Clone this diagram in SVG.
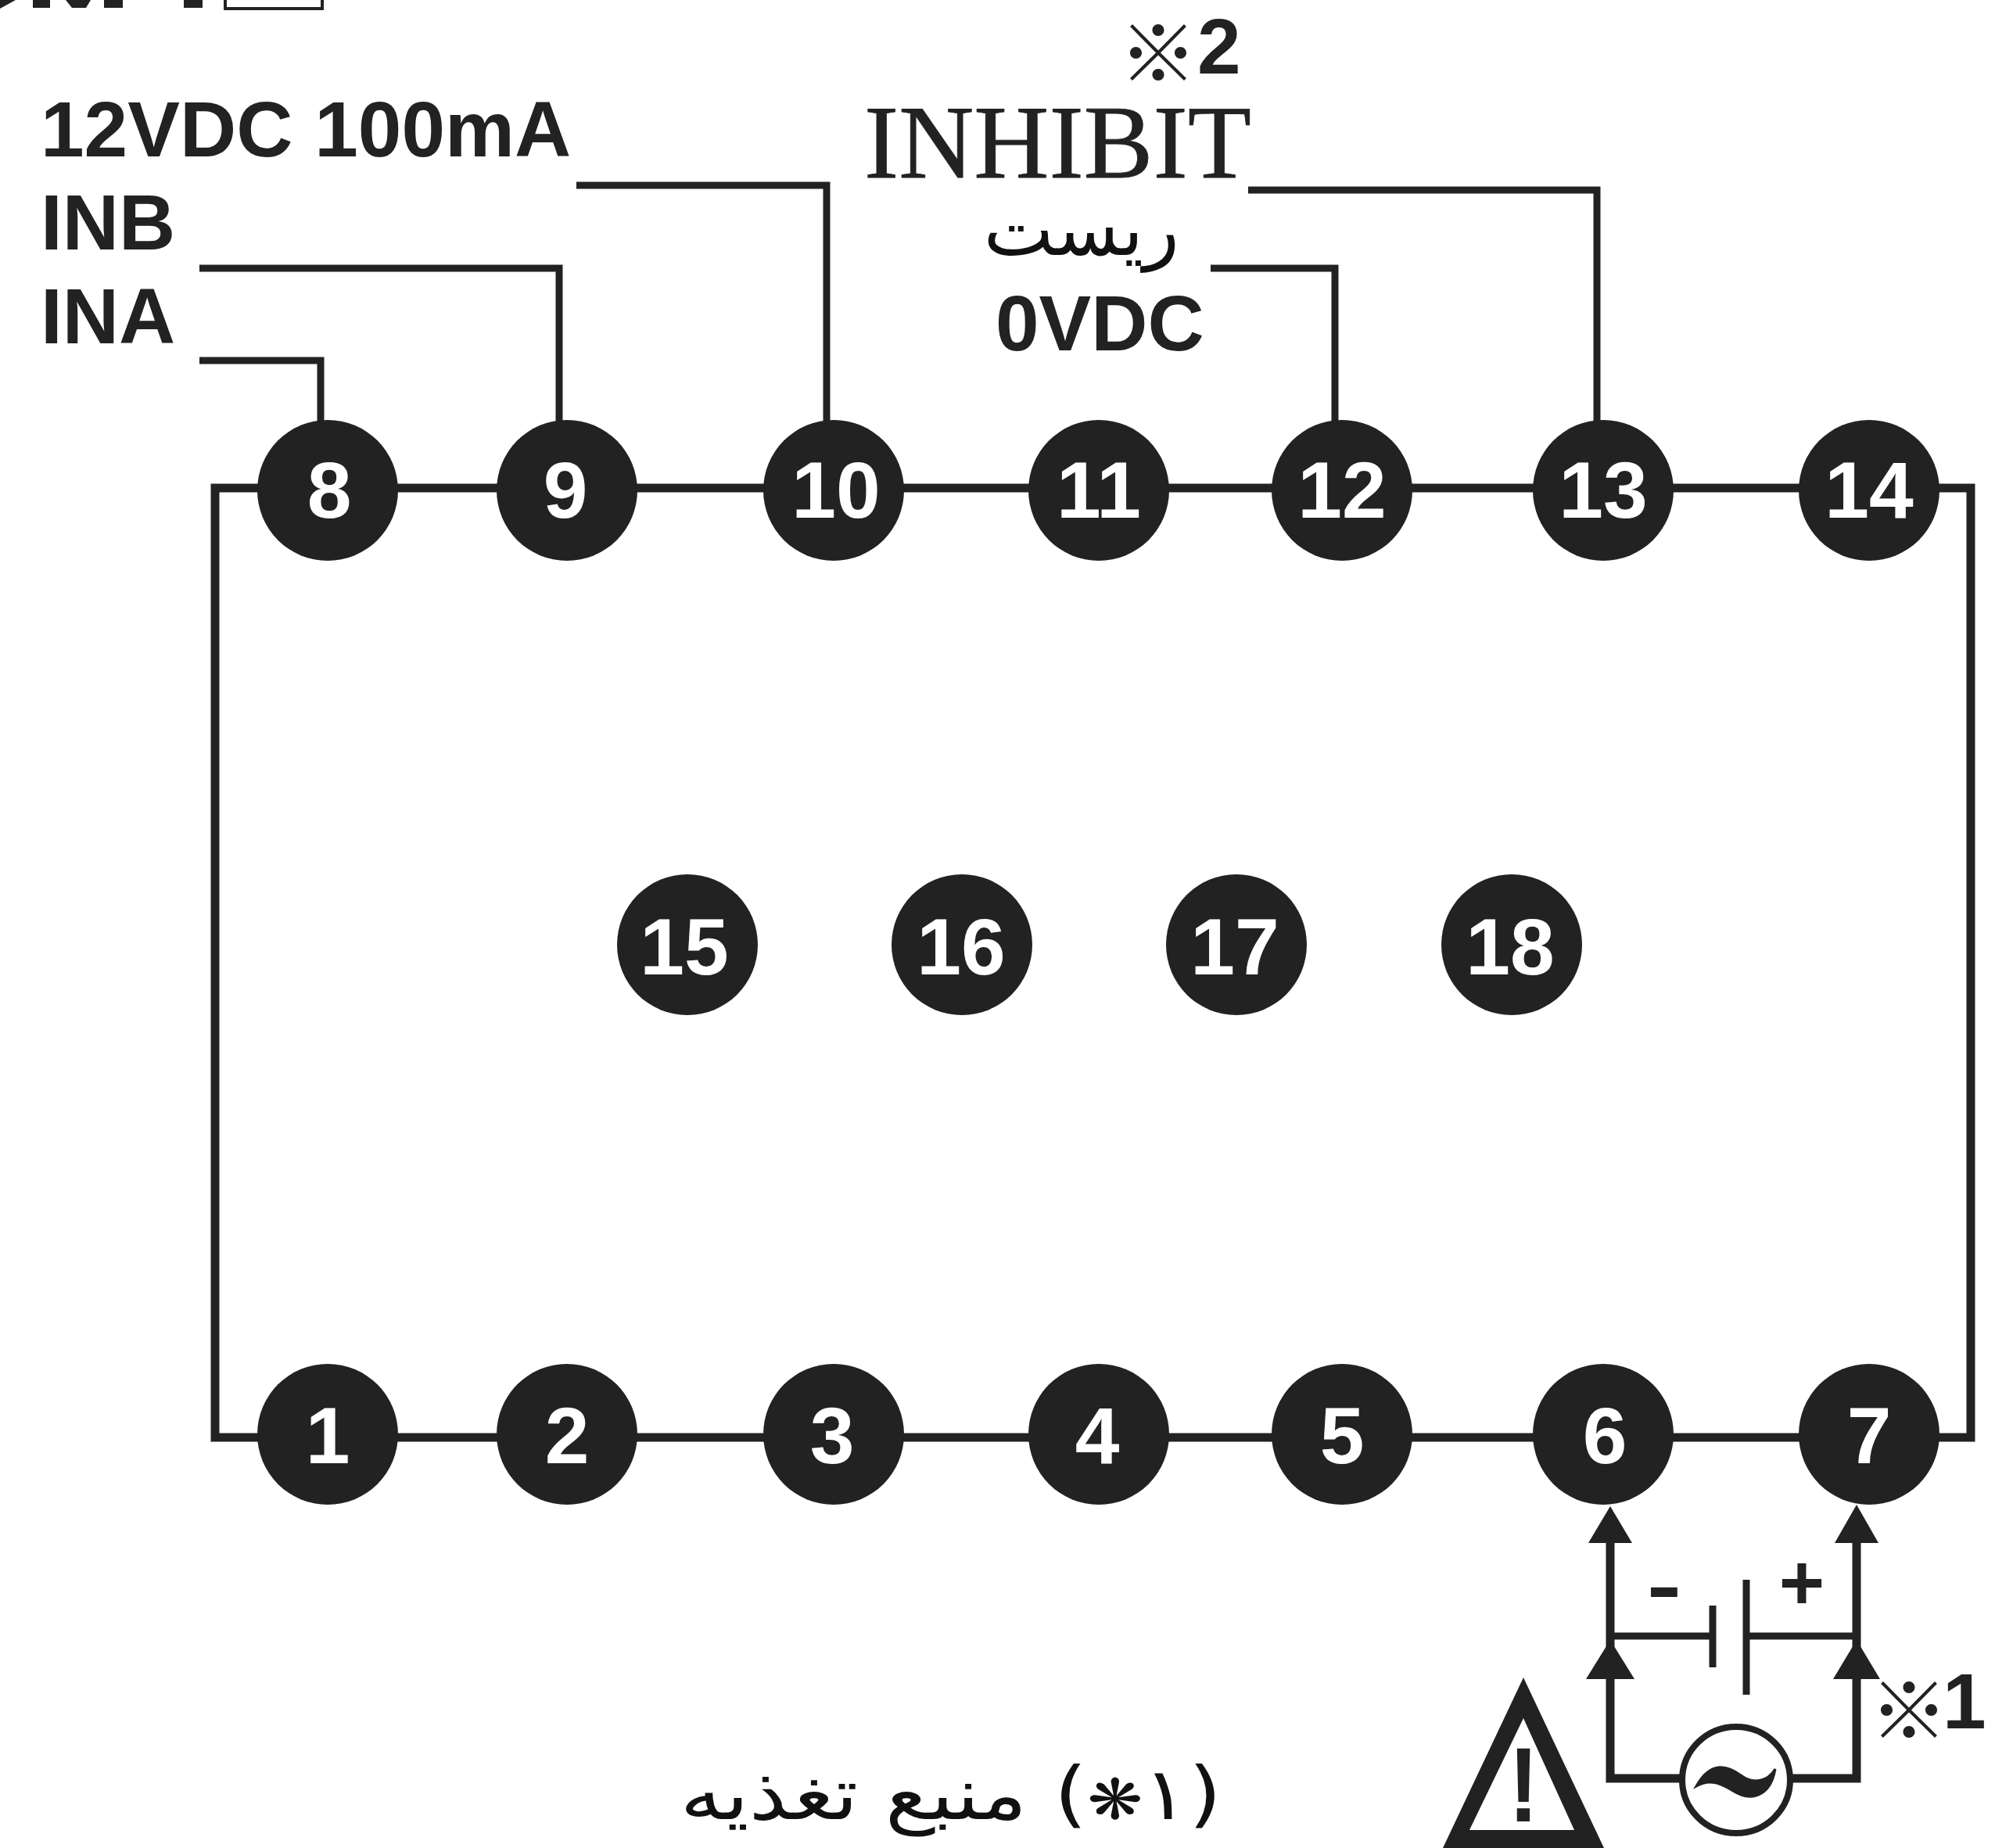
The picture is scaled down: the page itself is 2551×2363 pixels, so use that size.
<svg xmlns="http://www.w3.org/2000/svg" width="2551" height="2363" viewBox="0 0 2551 2363">
<style>
.w{fill:none;stroke:#222;stroke-width:9}
.b{fill:none;stroke:#222;stroke-width:11}
.n circle{fill:#222}
.n text{font:bold 102px "Liberation Sans",Arial,sans-serif;fill:#fff;text-anchor:middle}
.l{font:bold 100px "Liberation Sans",Arial,sans-serif;fill:#222}
.s{font-family:"Liberation Serif","Times New Roman",serif;fill:#222;stroke:#222;stroke-width:.8}
.m{font-family:"Noto Sans CJK JP",sans-serif;fill:#222;text-anchor:middle}
.f{font-family:"DejaVu Sans",sans-serif;fill:#111;direction:rtl}
.a{fill:#222}
</style>
<rect width="2551" height="2363" fill="#fff"/>
<g id="cropped-top">
<polygon class="a" points="0,0 20,0 0,11"/>
<rect class="a" x="42" y="0" width="22" height="10"/>
<polygon class="a" points="84,0 116,0 110,10 92,10"/>
<rect class="a" x="133" y="0" width="24" height="10"/>
<rect class="a" x="235" y="0" width="24" height="10"/>
<path d="M288 0V11H412V0" fill="none" stroke="#222" stroke-width="4"/>
</g>
<g id="connectors">
<path class="b" d="M275 624H2520V1838H275Z"/>
<path class="w" d="M255 461H410V545"/>
<path class="w" d="M255 343H715V545"/>
<path class="w" d="M737 237H1057V545"/>
<path class="w" d="M1596 243H2042V545"/>
<path class="w" d="M1548 343H1707V545"/>
<path class="b" d="M2059 1960V2274H2151M2289 2274H2374V1960" stroke-width="10"/>
<path class="w" d="M2059 2092H2190M2233 2092H2374"/>
<path class="w" d="M2190 2053V2132M2233 2020V2167"/>
<polygon class="a" points="2059,1926 2087,1973 2031,1973"/>
<polygon class="a" points="2374,1924 2402,1973 2346,1973"/>
<polygon class="a" points="2059,2097 2090,2147 2028,2147"/>
<polygon class="a" points="2374,2097 2404,2147 2344,2147"/>
</g>
<g id="node-8" class="n"><circle cx="419" cy="627" r="90"/><text x="421" y="662">8</text></g>
<g id="node-9" class="n"><circle cx="725" cy="627" r="90"/><text x="723" y="662">9</text></g>
<g id="node-10" class="n"><circle cx="1066" cy="627" r="90"/><text x="1069" y="662">10</text></g>
<g id="node-11" class="n"><circle cx="1405" cy="627" r="90"/><text x="1405" y="662">11</text></g>
<g id="node-12" class="n"><circle cx="1716" cy="627" r="90"/><text x="1716" y="662">12</text></g>
<g id="node-13" class="n"><circle cx="2050" cy="627" r="90"/><text x="2050" y="662">13</text></g>
<g id="node-14" class="n"><circle cx="2390" cy="627" r="90"/><text x="2390" y="662">14</text></g>
<g id="node-15" class="n"><circle cx="879" cy="1208" r="90"/><text x="875" y="1246">15</text></g>
<g id="node-16" class="n"><circle cx="1230" cy="1208" r="90"/><text x="1229" y="1246">16</text></g>
<g id="node-17" class="n"><circle cx="1581" cy="1208" r="90"/><text x="1579" y="1246">17</text></g>
<g id="node-18" class="n"><circle cx="1933" cy="1208" r="90"/><text x="1931" y="1246">18</text></g>
<g id="node-1" class="n"><circle cx="419" cy="1834" r="90"/><text x="419" y="1871">1</text></g>
<g id="node-2" class="n"><circle cx="725" cy="1834" r="90"/><text x="725" y="1871">2</text></g>
<g id="node-3" class="n"><circle cx="1066" cy="1834" r="90"/><text x="1064" y="1871">3</text></g>
<g id="node-4" class="n"><circle cx="1405" cy="1834" r="90"/><text x="1403" y="1871">4</text></g>
<g id="node-5" class="n"><circle cx="1716" cy="1834" r="90"/><text x="1716" y="1871">5</text></g>
<g id="node-6" class="n"><circle cx="2050" cy="1834" r="90"/><text x="2052" y="1871">6</text></g>
<g id="node-7" class="n"><circle cx="2390" cy="1834" r="90"/><text x="2390" y="1871">7</text></g>
<g id="labels">
<text class="l" x="52" y="200">12VDC 100mA</text>
<text class="l" x="52" y="319">INB</text>
<text class="l" x="52" y="439">INA</text>
<text class="l" x="1273" y="448">0VDC</text>
<text class="s" x="1105" y="227" font-size="133">INHIBIT</text>
<text class="m" x="1481" y="105" font-size="100">※</text>
<text class="l" x="1531" y="94">2</text>
<text class="m" x="2441" y="2224" font-size="100">※</text>
<text class="l" x="2484" y="2210">1</text>
<text class="f" x="1508" y="326" font-size="95">ریست</text>
<text class="f" transform="translate(1562 2326) scale(1.18 1)" font-size="92">(۱<tspan font-size="72">❋</tspan>) منبع تغذیه</text>
<text class="l" x="2304" y="2058" text-anchor="middle">+</text>
<text x="2128" y="2070" font-family="Liberation Sans,sans-serif" font-size="130" fill="#222" stroke="#222" stroke-width="2" text-anchor="middle">-</text>
</g>
<g id="warning">
<path class="a" fill-rule="evenodd" d="M1948 2145L2051 2363H1845ZM1948 2197L1879 2340H2013Z"/>
<text x="1948" y="2327" font-family="Liberation Sans,sans-serif" font-size="130" fill="#222" stroke="#222" stroke-width="4" text-anchor="middle">!</text>
</g>
<g id="source">
<ellipse cx="2220" cy="2276" rx="69" ry="68" fill="#fff" stroke="#222" stroke-width="8"/>
<path d="M2169 2284C2188 2250 2210 2258 2226 2270C2242 2282 2260 2278 2270 2262C2264 2298 2238 2304 2216 2290C2200 2280 2186 2274 2169 2284Z" fill="#222" stroke="#222" stroke-width="3"/>
</g>
</svg>
